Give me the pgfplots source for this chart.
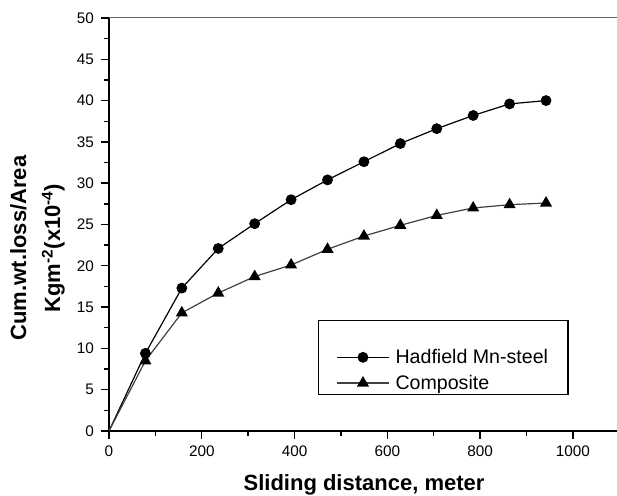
\documentclass[border=0pt]{standalone}
\usepackage{pgfplots}
\pgfplotsset{compat=1.18}
\usepackage{fontspec}
\setmainfont{Liberation Sans}
\begin{document}
\begin{tikzpicture}
\begin{axis}[
  name=ax,
  scale only axis, width=508pt, height=413pt,
  xmin=0, xmax=1095, ymin=0, ymax=50,
  axis x line*=bottom, axis y line*=left,
  axis line style={line width=1.8pt, -},
  xtick={0,200,...,1000}, ytick={0,5,...,50},
  minor x tick num=1, minor y tick num=1,
  tick align=outside,
  major tick length=8pt, minor tick length=5pt,
  every tick/.style={black, line width=1.4pt},
  scaled ticks=false,
  /pgf/number format/1000 sep={},
  /pgf/number format/assume math mode=true,
  tick label style={font=\fontsize{15.3}{18}\selectfont},
  yticklabel style={xshift=-3.5pt},
  xticklabel style={yshift=-3pt},
  xlabel={Sliding distance, meter},
  xlabel style={at={(rel axis cs:0.502,0)}, anchor=base, yshift=-60pt, font=\bfseries\fontsize{22}{26}\selectfont},
  ylabel={Cum.wt.loss/Area\\Kgm\textsuperscript{-2}(x10\textsuperscript{-4})},
  ylabel style={at={(rel axis cs:0,0.443)}, anchor=center, yshift=71.5pt, align=center, font=\bfseries\fontsize{22}{34}\selectfont},
  legend style={at={(axis cs:450,13.45)}, anchor=north west, draw=black, line width=1.2pt,
    font=\fontsize{19.6}{24}\selectfont, inner xsep=18pt, inner ysep=2pt, row sep=6pt, cells={anchor=west},
    /tikz/every odd column/.append style={column sep=4pt}},
  legend image code/.code={\draw[#1, mark indices={2}] plot coordinates {(0pt,0pt) (26pt,0pt) (52pt,0pt)};},
]
\addlegendimage{empty legend}
\addlegendentry{\vphantom{Hp}}
\addplot[black, line width=1.2pt, mark=*, mark size=4.8pt, mark indices={2,...,13}, mark options={fill=black, draw=black}]
  coordinates {(0,0) (78.5,9.4) (157,17.3) (235.5,22.1) (314,25.1) (392.5,28.0) (471,30.4) (549.5,32.6) (628,34.8) (706.5,36.6) (785,38.2) (863.5,39.6) (942,40.0)};
\addlegendentry{Hadfield Mn-steel}
\addplot[black!75, line width=1.2pt, mark=triangle*, mark size=5.8pt, mark indices={2,...,13}, mark options={fill=black, draw=black}]
  coordinates {(0,0) (78.5,8.5) (157,14.3) (235.5,16.7) (314,18.7) (392.5,20.1) (471,22.0) (549.5,23.6) (628,24.9) (706.5,26.1) (785,27.0) (863.5,27.4) (942,27.6)};
\addlegendentry{Composite}
\end{axis}
\draw[black!60, line width=1pt] (ax.north west) -- (ax.north east);
\pgfresetboundingbox
\useasboundingbox ([xshift=-109pt,yshift=-65pt]ax.south west) rectangle ([yshift=18pt]ax.north east);
\end{tikzpicture}
\end{document}
